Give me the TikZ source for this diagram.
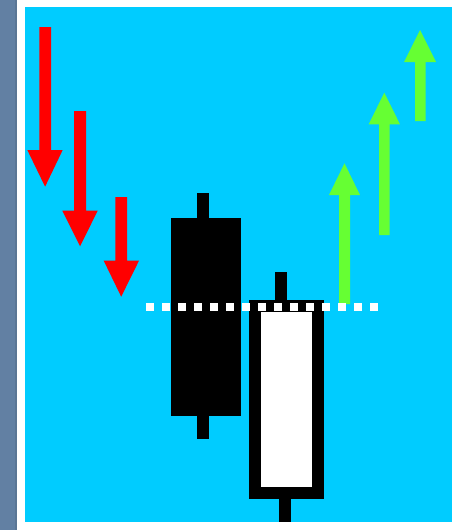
\documentclass[tikz,border=0pt]{standalone}
\usetikzlibrary{calc}
\definecolor{skyc}{RGB}{0,204,255}
\definecolor{stripc}{RGB}{98,128,163}
\definecolor{greenc}{RGB}{102,255,51}
\definecolor{redc}{RGB}{255,0,0}
\begin{document}
\begin{tikzpicture}[x=1pt,y=-1pt,
  redarrow/.style={fill=redc},
  greenarrow/.style={fill=greenc},
  candle/.style={fill=black},
  dotsq/.style={fill=white}]
\useasboundingbox (0,0) rectangle (457,530);
\fill[white] (0,0) rectangle (457,530);
\fill[stripc] (0,0) rectangle (17,530);
\fill[stripc!80!black,opacity=0.4] (15,0) rectangle (17,530);
\fill[skyc] (25.3,7) rectangle (452,521.7);
% red arrows
\fill[redarrow] (39.3,27) -- (51,27) -- (51,150) -- (62.7,150) -- (45.1,186.7) -- (27.3,150) -- (39.3,150) -- cycle;
\fill[redarrow] (74.2,111) -- (86,111) -- (86,210.7) -- (97.7,210.7) -- (80.1,246.3) -- (62.3,210.7) -- (74.2,210.7) -- cycle;
\fill[redarrow] (115.3,197) -- (127,197) -- (127,260.7) -- (139,260.7) -- (121.2,296.7) -- (103.7,260.7) -- (115.3,260.7) -- cycle;
% green arrows
\fill[greenarrow] (339,304) -- (350,304) -- (350,195) -- (360,195) -- (344.5,163.3) -- (329,195) -- (339,195) -- cycle;
\fill[greenarrow] (379,235) -- (389.5,235) -- (389.5,124.3) -- (400,124.3) -- (384.3,92.7) -- (368.7,124.3) -- (379,124.3) -- cycle;
\fill[greenarrow] (415,121) -- (425.5,121) -- (425.5,62) -- (436,62) -- (420,30) -- (404,62) -- (415,62) -- cycle;
% black candle
\fill[candle] (196.7,193) rectangle (208.7,439.3);
\fill[candle] (170.5,217.7) rectangle (241,416);
% white candle
\fill[candle] (275.3,271.7) rectangle (287.3,300.5);
\fill[candle] (279.3,498) rectangle (291,522);
\fill[candle] (248.7,300) rectangle (323.5,498.7);
\fill[white] (261,311.7) rectangle (311.7,486.7);
% dotted line
\foreach \k in {0,...,14} {
  \fill[dotsq] ({146+16*\k},303) rectangle ({154+16*\k},311);
}
\end{tikzpicture}
\end{document}
